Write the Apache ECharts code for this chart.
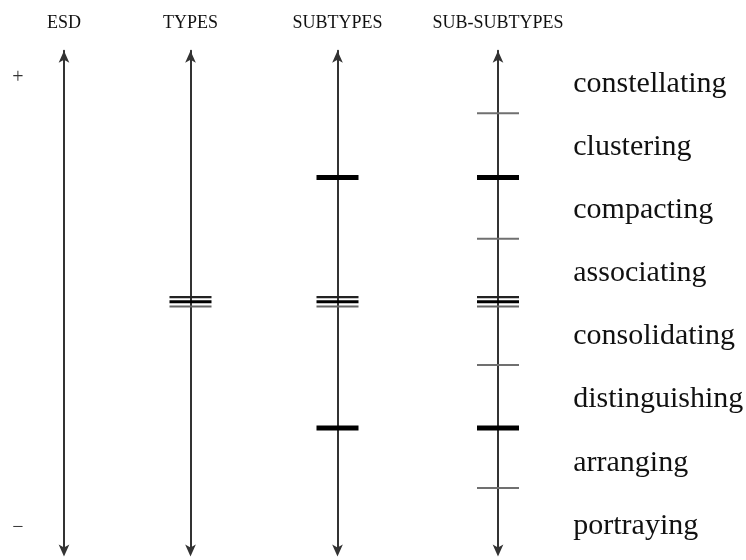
<!DOCTYPE html>
<html>
<head>
<meta charset="utf-8">
<script src="https://cdn.jsdelivr.net/npm/echarts@6/dist/echarts.min.js"></script>
<style>html,body{margin:0;padding:0;background:#fff;}#chart{width:746px;height:560px;}</style>
</head>
<body>
<div id="chart"></div>
<script>
// Column headers (left to right)
const columns = ['ESD', 'TYPES', 'SUBTYPES', 'SUB-SUBTYPES'];
// Stage labels, top to bottom
const stages = ['constellating', 'clustering', 'compacting', 'associating', 'consolidating', 'distinguishing', 'arranging', 'portraying'];
// Boundary marks per column, in scale units (0 = bottom, 8 = top)
const thinMarks = [[], [], [], [7, 4.99, 2.97, 1]];
const thickMarks = [[], [], [5.97, 1.96], [5.97, 1.96]];
const tripleMarks = [[], [3.98], [3.98], [3.98]];
const poles = ['+', '\u2212'];
const scaleMin = 0, scaleMax = 8;

const serif = '"Liberation Serif", "DejaVu Serif", serif';
const colCenters = [64, 190.5, 337.5, 498];
const markW = 42;
const gridTop = 50.8, gridH = 499.6;

const grids = [], xAxes = [], yAxes = [], series = [];
columns.forEach((name, i) => {
  grids.push({ left: colCenters[i] - markW / 2, width: markW, top: gridTop, height: gridH });
  xAxes.push({ gridIndex: i, type: 'value', min: -1, max: 1, show: false });
  yAxes.push({
    gridIndex: i, type: 'value', min: scaleMin, max: scaleMax,
    name: name, nameLocation: 'end', nameGap: 19,
    nameTextStyle: { fontFamily: serif, fontSize: 18, color: '#111' },
    axisLine: { show: true, onZero: true, symbol: ['arrow', 'arrow'], symbolSize: [8, 12], symbolOffset: [-6, 0],
      lineStyle: { color: '#333', width: 2 } },
    axisTick: { show: false }, axisLabel: { show: false }, splitLine: { show: false }
  });
  const data = [];
  thinMarks[i].forEach(v => data.push({ value: [0, v], symbolSize: [markW, 2], itemStyle: { color: '#707070' } }));
  thickMarks[i].forEach(v => data.push({ value: [0, v], symbolSize: [markW, 5], itemStyle: { color: '#000' } }));
  tripleMarks[i].forEach(v => {
    data.push({ value: [0, v], symbolSize: [markW, 2.2], symbolOffset: [0, -4.7], itemStyle: { color: '#222' } });
    data.push({ value: [0, v], symbolSize: [markW, 3], symbolOffset: [0, 0], itemStyle: { color: '#000' } });
    data.push({ value: [0, v], symbolSize: [markW, 2], symbolOffset: [0, 4.7], itemStyle: { color: '#666' } });
  });
  series.push({ type: 'scatter', xAxisIndex: i, yAxisIndex: i, symbol: 'rect', data: data,
    itemStyle: { opacity: 1 }, silent: true, animation: false, z: 3 });
});

// Stage labels in their own narrow grid to the right of the last column
const labelGrid = grids.length;
grids.push({ left: 518, width: 1, top: 52.4, height: 505 });
xAxes.push({ gridIndex: labelGrid, type: 'value', min: 0, max: 1, show: false });
yAxes.push({
  gridIndex: labelGrid, type: 'category', data: stages, inverse: true, position: 'right',
  boundaryGap: true,
  axisLine: { show: false, onZero: false }, axisTick: { show: false }, splitLine: { show: false },
  axisLabel: { show: true, margin: 55, fontFamily: serif, fontSize: 30, color: '#111' }
});

const chart = echarts.init(document.getElementById('chart'), null, { renderer: 'canvas' });
chart.setOption({
  animation: false,
  backgroundColor: '#fff',
  grid: grids, xAxis: xAxes, yAxis: yAxes, series: series,
  graphic: [
    { type: 'text', x: 18, y: 78, style: { text: poles[0], fontFamily: serif, fontSize: 20, fill: '#333', align: 'center', verticalAlign: 'middle' } },
    { type: 'text', x: 18, y: 528, style: { text: poles[1], fontFamily: serif, fontSize: 20, fill: '#333', align: 'center', verticalAlign: 'middle' } }
  ]
});
</script>
</body>
</html>
